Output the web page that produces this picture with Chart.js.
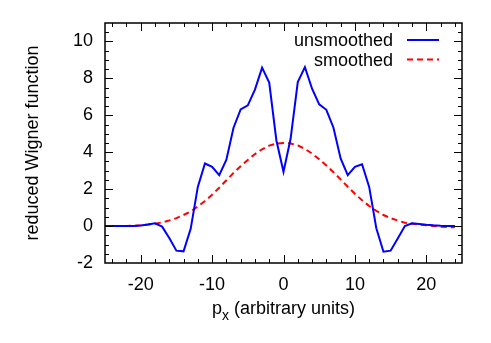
<!DOCTYPE html>
<html>
<head>
<meta charset="utf-8">
<script src="https://cdn.jsdelivr.net/npm/chart.js@4"></script>
<style>
  html, body { margin: 0; padding: 0; background: #fff; }
</style>
</head>
<body>
<canvas id="grafico" width="491" height="343"></canvas>
<script>
// p_x sample positions (arbitrary units)
const px = [-25, -24, -23, -22, -21, -20, -19, -18, -17, -16, -15, -14, -13, -12, -11, -10, -9, -8, -7, -6, -5, -4, -3, -2, -1,
  0, 1, 2, 3, 4, 5, 6, 7, 8, 9, 10, 11, 12, 13, 14, 15, 16, 17, 18, 19, 20, 21, 22, 23, 24];

const unsmoothed = [0, 0, 0, 0, 0.01, 0.03, 0.08, 0.15, -0.03, -0.65, -1.33, -1.37, -0.15, 2.12, 3.39, 3.21, 2.76, 3.6, 5.33, 6.32, 6.54, 7.39, 8.58, 7.77, 4.65,
  2.94, 4.74, 7.8, 8.61, 7.44, 6.59, 6.3, 5.33, 3.66, 2.76, 3.21, 3.35, 2.12, -0.12, -1.39, -1.33, -0.67, 0.0, 0.15, 0.11, 0.07, 0.04, 0.02, 0.01, 0];

const smoothed = [0, 0, 0, 0.01, 0.02, 0.04, 0.08, 0.13, 0.2, 0.3, 0.43, 0.6, 0.8, 1.06, 1.36, 1.7, 2.08, 2.48, 2.88, 3.24, 3.58, 3.9, 4.16, 4.36, 4.47,
  4.5, 4.47, 4.37, 4.18, 3.93, 3.62, 3.28, 2.92, 2.53, 2.13, 1.75, 1.4, 1.09, 0.82, 0.6, 0.43, 0.3, 0.18, 0.13, 0.08, 0.04, 0.0, -0.03, -0.05, -0.07];

const xTicks = [-20, -10, 0, 10, 20];
const yTicks = [-2, 0, 2, 4, 6, 8, 10];
const labels = ['unsmoothed', 'smoothed'];

const fuente = "'Liberation Sans', Arial, Helvetica, sans-serif";

// frame with inward ticks on all four sides (gnuplot style)
const marco = {
  id: 'marco',
  afterDatasetsDraw(chart) {
    const { ctx, chartArea: a, scales: { x, y } } = chart;
    ctx.save();
    ctx.strokeStyle = '#000';
    ctx.lineWidth = 1;
    ctx.beginPath();
    for (let v = -24; v <= 24; v += 2) {
      const p = Math.round(x.getPixelForValue(v)) + 0.5;
      const len = v % 10 === 0 ? 8 : 4;
      ctx.moveTo(p, a.bottom); ctx.lineTo(p, a.bottom - len);
      ctx.moveTo(p, a.top); ctx.lineTo(p, a.top + len);
    }
    for (let v = -1.5; v < 11; v += 0.5) {
      const p = Math.round(y.getPixelForValue(v)) + 0.5;
      const len = v % 2 === 0 ? 8 : 4;
      ctx.moveTo(a.left, p); ctx.lineTo(a.left + len, p);
      ctx.moveTo(a.right, p); ctx.lineTo(a.right - len, p);
    }
    ctx.stroke();
    ctx.lineWidth = 1.5;
    ctx.strokeRect(a.left, a.top, a.right - a.left, a.bottom - a.top);

    // legend, text to the left of the sample line
    ctx.font = '18px ' + fuente;
    ctx.fillStyle = '#000';
    ctx.textAlign = 'right';
    ctx.textBaseline = 'alphabetic';
    chart.data.datasets.forEach((ds, i) => {
      const yb = 46 + i * 19.5;
      ctx.fillText(ds.label, 393, yb);
      ctx.strokeStyle = ds.borderColor;
      ctx.lineWidth = 2;
      ctx.setLineDash(ds.borderDash || []);
      ctx.beginPath();
      ctx.moveTo(407, yb - 6);
      ctx.lineTo(439, yb - 6);
      ctx.stroke();
    });
    ctx.setLineDash([]);

    // x axis title with subscript
    const base = 314;
    const partes = [['p', 18, 0], ['x', 14, 6], [' (arbitrary units)', 18, 0]];
    let ancho = 0;
    partes.forEach(([t, s]) => { ctx.font = s + 'px ' + fuente; ancho += ctx.measureText(t).width; });
    let cx = (a.left + a.right) / 2 - ancho / 2;
    ctx.textAlign = 'left';
    partes.forEach(([t, s, dy]) => {
      ctx.font = s + 'px ' + fuente;
      ctx.fillText(t, cx, base + dy);
      cx += ctx.measureText(t).width;
    });
    ctx.restore();
  }
};

new Chart(document.getElementById('grafico'), {
  type: 'line',
  data: {
    labels: px,
    datasets: [{
      label: labels[0],
      data: px.map((v, i) => ({ x: v, y: unsmoothed[i] })),
      borderColor: '#0000ff',
      borderWidth: 2,
      pointRadius: 0,
      tension: 0
    }, {
      label: labels[1],
      data: px.map((v, i) => ({ x: v, y: smoothed[i] })),
      borderColor: '#ff0000',
      borderWidth: 2,
      borderDash: [6, 4],
      pointRadius: 0,
      tension: 0
    }]
  },
  options: {
    responsive: false,
    animation: false,
    devicePixelRatio: 1,
    layout: { padding: { top: 23, right: 29, left: 0, bottom: 0 } },
    plugins: {
      legend: { display: false },
      tooltip: { enabled: false }
    },
    scales: {
      x: {
        type: 'linear',
        min: -25,
        max: 25,
        grid: { display: false, drawTicks: false },
        border: { display: false },
        afterBuildTicks: s => { s.ticks = xTicks.map(v => ({ value: v })); },
        afterFit: s => { s.height = 80; },
        ticks: { color: '#000', font: { size: 18, family: fuente }, padding: 11, maxRotation: 0, autoSkip: false }
      },
      y: {
        min: -2,
        max: 11,
        grid: { display: false, drawTicks: false },
        border: { display: false },
        afterBuildTicks: s => { s.ticks = yTicks.map(v => ({ value: v })); },
        afterFit: s => { s.width = 105; },
        ticks: { color: '#000', font: { size: 18, family: fuente }, padding: 12 },
        title: {
          display: true,
          text: 'reduced Wigner function',
          color: '#000',
          font: { size: 18, family: fuente },
          padding: { top: 22, bottom: 0 }
        }
      }
    }
  },
  plugins: [marco]
});
</script>
</body>
</html>
